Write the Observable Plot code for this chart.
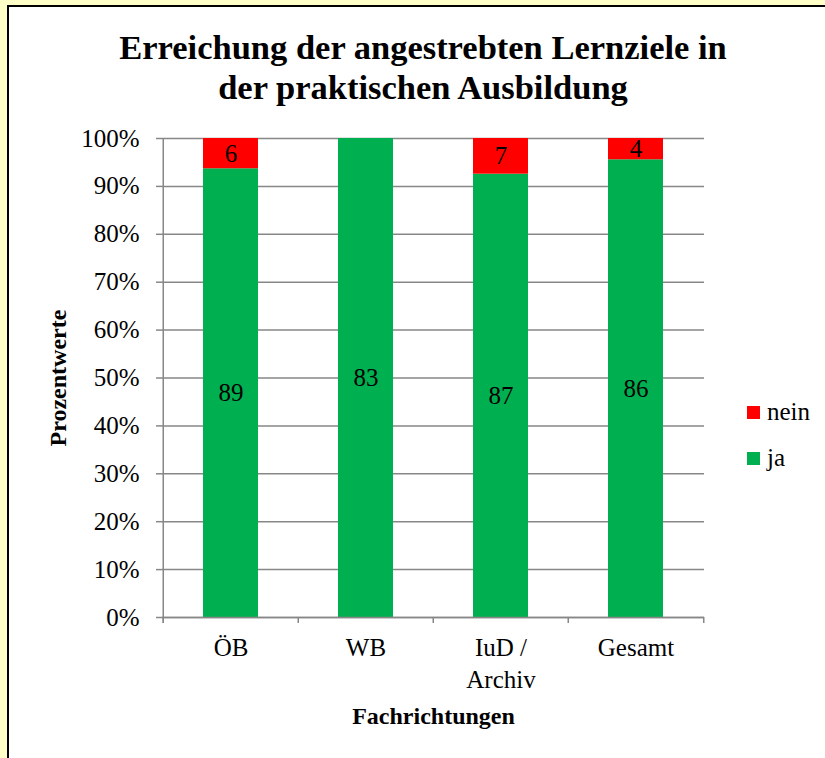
<!DOCTYPE html>
<html>
<head>
<meta charset="utf-8">
<script src="https://cdn.jsdelivr.net/npm/d3@7"></script>
<script src="https://cdn.jsdelivr.net/npm/@observablehq/plot@0.6"></script>
<style>
  html, body { margin: 0; padding: 0; }
  body { width: 825px; height: 758px; background: #FFFFC8; position: relative; overflow: hidden;
         font-family: "Liberation Serif", "Times New Roman", serif; }
  #frame { position: absolute; left: 7px; top: 5px; width: 830px; height: 770px; background: #fff;
           border-top: 2.5px solid #000; border-left: 2.5px solid #000; }
  #title { position: absolute; left: 0; top: 27px; width: 846px; text-align: center; font-weight: bold;
           font-size: 34.5px; line-height: 40px; color: #000; }
  #chart { position: absolute; left: 0; top: 110px; }
  .sw { position: absolute; width: 13px; height: 13px; left: 747px; }
  .lt { position: absolute; left: 767px; font-size: 25px; line-height: 25px; }
</style>
</head>
<body>
<div id="frame"></div>
<div id="title">Erreichung der angestrebten Lernziele in<br>der praktischen Ausbildung</div>
<div id="chart"></div>
<div id="legend"></div>
<script>
const categories = ["ÖB", "WB", "IuD /\nArchiv", "Gesamt"];
const jaValues = [89, 83, 87, 86];
const neinValues = [6, 0, 7, 4];
const seriesNames = ["ja", "nein"];
const seriesColors = ["#00B050", "#FF0000"];
const yTicks = [0, 0.1, 0.2, 0.3, 0.4, 0.5, 0.6, 0.7, 0.8, 0.9, 1];
const xLabel = "Fachrichtungen";
const yLabel = "Prozentwerte";

const rows = [];
categories.forEach((c, i) => {
  rows.push({cat: c, series: "ja", value: jaValues[i]});
  rows.push({cat: c, series: "nein", value: neinValues[i]});
});

const W = 825, H = 648;
const mL = 162, mR = 121, mT = 28, mB = 141;
const step = (W - mL - mR) / categories.length;
const font = "Liberation Serif, Times New Roman, serif";

const plot = Plot.plot({
  width: W, height: H,
  marginLeft: mL, marginRight: mR, marginTop: mT, marginBottom: mB,
  style: {fontFamily: font, background: "transparent", color: "#000", overflow: "visible"},
  x: {domain: categories, paddingInner: 0.595, paddingOuter: 0.2975, axis: null},
  y: {domain: [0, 1], axis: null},
  color: {domain: seriesNames, range: seriesColors},
  marks: [
    Plot.gridY(yTicks, {stroke: "#878787", strokeOpacity: 1, strokeWidth: 1.5}),
    Plot.axisY(yTicks, {tickSize: 6, tickPadding: 17, stroke: "#878787", strokeWidth: 1.5, label: null,
      tickFormat: d => Math.round(d * 100) + "%", fontSize: 25, fill: "#000"}),
    Plot.barY(rows, Plot.stackY({offset: "normalize", order: seriesNames, x: "cat", y: "value", z: "series", fill: "series"})),
    Plot.text(rows, Plot.stackY({offset: "normalize", order: seriesNames, x: "cat", y: "value", z: "series",
      text: d => d.value > 0 ? String(d.value) : "", fontSize: 25, fill: "#000"})),
    Plot.ruleX([categories[0]], {x: d => d, dx: -step / 2, stroke: "#878787", strokeWidth: 1.5, insetBottom: -6}),
    Plot.ruleX(categories, {x: d => d, dx: -step / 2, stroke: "#878787", strokeWidth: 1.5, insetTop: H - mT - mB, insetBottom: -6}),
    Plot.ruleX([categories[categories.length - 1]], {x: d => d, dx: step / 2, stroke: "#878787", strokeWidth: 1.5, insetTop: H - mT - mB, insetBottom: -6}),
    Plot.ruleY([0], {stroke: "#878787", strokeWidth: 1.5}),
    Plot.text(categories, {x: d => d, text: d => d, frameAnchor: "bottom", lineAnchor: "top", dy: 15,
      lineHeight: 1.3, fontSize: 25, fill: "#000"}),
    Plot.text([xLabel], {frameAnchor: "bottom", dy: 106, fontSize: 24, fontWeight: "bold", fill: "#000"}),
    Plot.text([yLabel], {frameAnchor: "left", textAnchor: "middle", dx: -104, rotate: -90, fontSize: 24, fontWeight: "bold", fill: "#000"})
  ]
});
document.getElementById("chart").appendChild(plot);

const legend = document.getElementById("legend");
const legendTops = [406, 452];
["nein", "ja"].forEach((s, i) => {
  const idx = seriesNames.indexOf(s);
  const sw = document.createElement("div");
  sw.className = "sw";
  sw.style.top = legendTops[i] + "px";
  sw.style.background = seriesColors[idx];
  legend.appendChild(sw);
  const t = document.createElement("div");
  t.className = "lt";
  t.style.top = (legendTops[i] - 7) + "px";
  t.textContent = s;
  legend.appendChild(t);
});
</script>
</body>
</html>
